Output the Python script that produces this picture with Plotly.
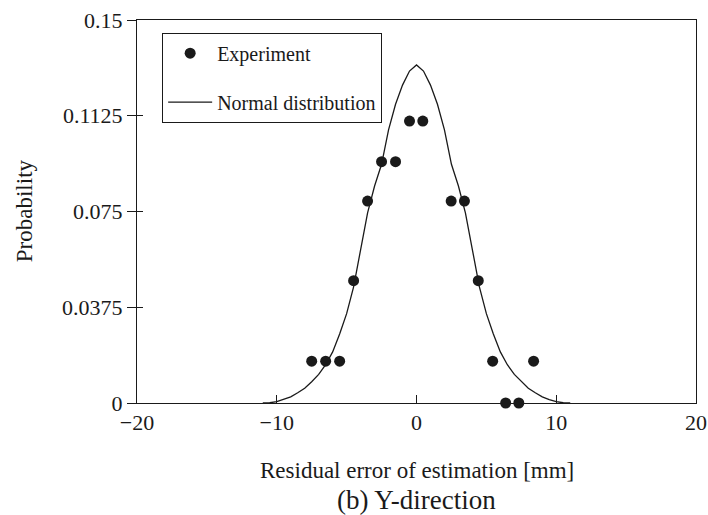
import plotly.graph_objects as go

# Experiment points
exp_x = [-7.5, -6.5, -5.5, -4.5, -3.5, -2.5, -1.5, -0.5, 0.45, 2.48, 3.43, 4.42, 5.45, 6.38, 7.32, 8.38]
exp_y = [0.0164, 0.0164, 0.0164, 0.0479, 0.0791, 0.0945, 0.0945, 0.1104, 0.1104,
         0.0791, 0.0791, 0.0479, 0.0164, 0.0, 0.0, 0.0164]

# Normal distribution curve
curve_x = [-11, -10.5, -10, -9.5, -9, -8.5, -8, -7.5, -7, -6.5, -6, -5.5, -5, -4.5, -4,
           -3.5, -3, -2.5, -2, -1.5, -1, -0.5, 0, 0.5, 1, 1.5, 2, 2.5, 3, 3.5, 4,
           4.5, 5, 5.5, 6, 6.5, 7, 7.5, 8, 8.5, 9, 9.5, 10, 10.5, 11]
curve_y = [0.0, 0.0001, 0.0005, 0.0013, 0.0024, 0.0040, 0.0058, 0.0083, 0.0112, 0.0150,
           0.0200, 0.0270, 0.0350, 0.0455, 0.0600, 0.0745, 0.0850, 0.0935, 0.1070,
           0.1170, 0.1245, 0.1300, 0.1324, 0.1300, 0.1245, 0.1170, 0.1070, 0.0935,
           0.0850, 0.0745, 0.0600, 0.0455, 0.0350, 0.0270, 0.0200, 0.0150, 0.0112,
           0.0083, 0.0058, 0.0040, 0.0024, 0.0013, 0.0005, 0.0001, 0.0]

x_ticks = [-20, -10, 0, 10, 20]
y_ticks = [0, 0.0375, 0.075, 0.1125, 0.15]
y_tick_text = ["0", "0.0375", "0.075", "0.1125", "0.15"]

FONT = "Liberation Serif, Times New Roman, serif"
INK = "#1a1a1a"

fig = go.Figure()
fig.add_trace(go.Scatter(
    x=exp_x, y=exp_y, mode="markers", name="Experiment",
    marker=dict(color=INK, size=11), cliponaxis=False, legendgroup="a"))
fig.add_trace(go.Scatter(
    x=curve_x, y=curve_y, mode="lines", name="Normal distribution",
    line=dict(color=INK, width=1.3), yaxis="y2", legendgroup="b"))

fig.update_layout(
    width=708, height=515,
    margin=dict(l=137, r=12, t=20, b=112, autoexpand=False),
    paper_bgcolor="white", plot_bgcolor="white",
    font=dict(family=FONT, size=22, color=INK),
    showlegend=True,
    legend=dict(x=0.045, y=0.967, xanchor="left", yanchor="top",
                bordercolor=INK, borderwidth=1, bgcolor="white",
                font=dict(family=FONT, size=20, color=INK),
                itemwidth=44, tracegroupgap=20, traceorder="grouped"),
    xaxis=dict(range=[-20, 20], tickvals=x_ticks, ticks="inside", ticklen=8,
               tickcolor=INK, showline=True, linecolor=INK, linewidth=1,
               mirror=True, showgrid=False, zeroline=False, automargin=False,
               tickfont=dict(family=FONT, size=22)),
    yaxis=dict(range=[0, 0.15], tickvals=y_ticks, ticktext=y_tick_text,
               ticks="outside", ticklen=9, tickcolor=INK, automargin=False,
               showline=True, linecolor=INK, linewidth=1, mirror=True,
               showgrid=False, zeroline=False, tickfont=dict(family=FONT, size=22)),
    yaxis2=dict(range=[0, 0.15], overlaying="y", side="left", tickvals=y_ticks,
                ticks="inside", ticklen=6, tickcolor=INK, showticklabels=False,
                showline=False, showgrid=False, zeroline=False, automargin=False),
    annotations=[
        dict(text="Probability", xref="paper", yref="paper", x=-0.202, y=0.501,
             textangle=-90, showarrow=False, xanchor="center", yanchor="middle",
             font=dict(family=FONT, size=23)),
        dict(text="Residual error of estimation [mm]", xref="paper", yref="paper",
             x=0.5, y=-0.175, showarrow=False, xanchor="center", yanchor="middle",
             font=dict(family=FONT, size=23)),
        dict(text="(b) Y-direction", xref="paper", yref="paper",
             x=0.5, y=-0.253, showarrow=False, xanchor="center", yanchor="middle",
             font=dict(family=FONT, size=27)),
    ],
)

fig.write_html("out.html")
